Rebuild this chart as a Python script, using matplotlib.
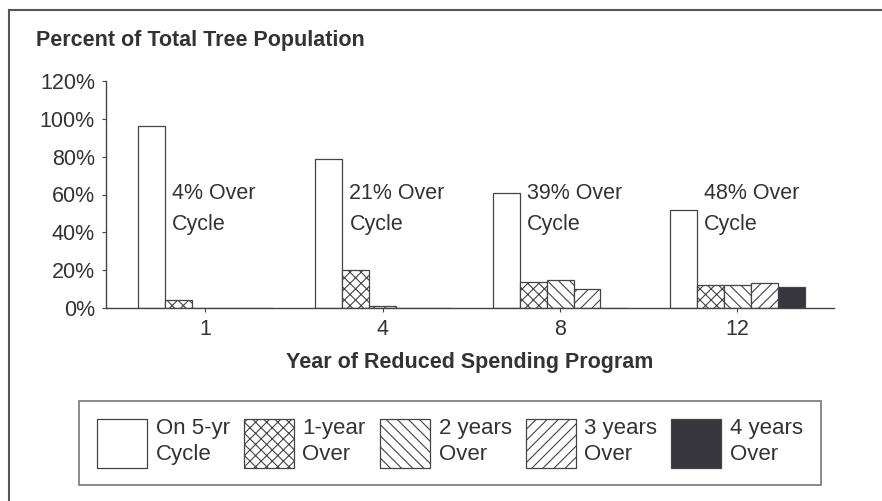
import matplotlib
matplotlib.use("Agg")
import matplotlib.pyplot as plt
from matplotlib.patches import Patch
from matplotlib.lines import Line2D
import numpy as np

plt.rcParams["font.family"] = ["Liberation Sans", "DejaVu Sans"]
plt.rcParams["hatch.linewidth"] = 0.8

years = ["1", "4", "8", "12"]
series = ["On 5-yr\nCycle", "1-year\nOver", "2 years\nOver", "3 years\nOver", "4 years\nOver"]
on_cycle = [96, 79, 61, 52]
one_year = [4, 20, 14, 12]
two_years = [0, 1, 15, 12]
three_years = [0, 0, 10, 13]
four_years = [0, 0, 0, 11]
over_cycle_labels = ["4% Over\nCycle", "21% Over\nCycle", "39% Over\nCycle", "48% Over\nCycle"]

values = [on_cycle, one_year, two_years, three_years, four_years]
hatches = ["", "xxx", "\\\\\\", "///", ""]
faces = ["white", "white", "white", "white", "#36363c"]
text_col = "#333333"
edge_col = "#444444"

fig = plt.figure(figsize=(8.82, 5.01), dpi=100)
ax = fig.add_axes([106 / 882, 1 - 308 / 501, 728 / 882, 227 / 501])

x = np.arange(len(years))
w = 0.152
for i, vals in enumerate(values):
    ax.bar(x + (i - 2) * w, vals, width=w, facecolor=faces[i], edgecolor=edge_col,
           hatch=hatches[i], linewidth=0.9)

for i, lab in enumerate(over_cycle_labels):
    ax.text(x[i] - 1.5 * w + 0.04, 66, lab, fontsize=15.5, color=text_col,
            va="top", ha="left", linespacing=1.6)

ax.set_xlim(-0.561, 3.545)
ax.set_ylim(0, 120)
ax.set_yticks(range(0, 121, 20))
ax.set_yticklabels([f"{v}%" for v in range(0, 121, 20)])
ax.set_xticks(x)
ax.set_xticklabels(years)
ax.tick_params(axis="both", labelsize=15.5, labelcolor=text_col, color=edge_col,
               length=3, width=0.8)
ax.tick_params(axis="y", pad=5)
ax.tick_params(axis="x", pad=5)
for s in ["top", "right"]:
    ax.spines[s].set_visible(False)
for s in ["left", "bottom"]:
    ax.spines[s].set_color(edge_col)
    ax.spines[s].set_linewidth(1.0)

fig.text(36 / 882, 1 - 46 / 501, "Percent of Total Tree Population", fontsize=15.5,
         fontweight="bold", color=text_col, va="baseline", ha="left")
fig.text(470 / 882, 1 - 368 / 501, "Year of Reduced Spending Program", fontsize=15.5,
         fontweight="bold", color=text_col, va="baseline", ha="center")

handles = [Patch(facecolor=faces[i], edgecolor=edge_col, hatch=hatches[i], linewidth=0.9)
           for i in range(len(series))]
leg = fig.legend(handles, series, loc="center", bbox_to_anchor=(450 / 882, 1 - 443 / 501),
                 ncol=5, fontsize=16, frameon=True, fancybox=False, handlelength=2.25,
                 handleheight=3.0, handletextpad=0.4, columnspacing=0.63,
                 borderpad=0.8, borderaxespad=0)
leg.get_frame().set_edgecolor("#555555")
leg.get_frame().set_linewidth(1.2)
for t in leg.get_texts():
    t.set_color(text_col)
    t.set_linespacing(1.3)

# outer frame (left and top edges visible in the scan)
fig.add_artist(Line2D([9 / 882, 9 / 882], [0, 1 - 10 / 501], transform=fig.transFigure,
                      color="#555555", linewidth=1.5))
fig.add_artist(Line2D([9 / 882, 1], [1 - 10 / 501, 1 - 10 / 501], transform=fig.transFigure,
                      color="#555555", linewidth=1.5))

fig.savefig("out.png", dpi=100)
